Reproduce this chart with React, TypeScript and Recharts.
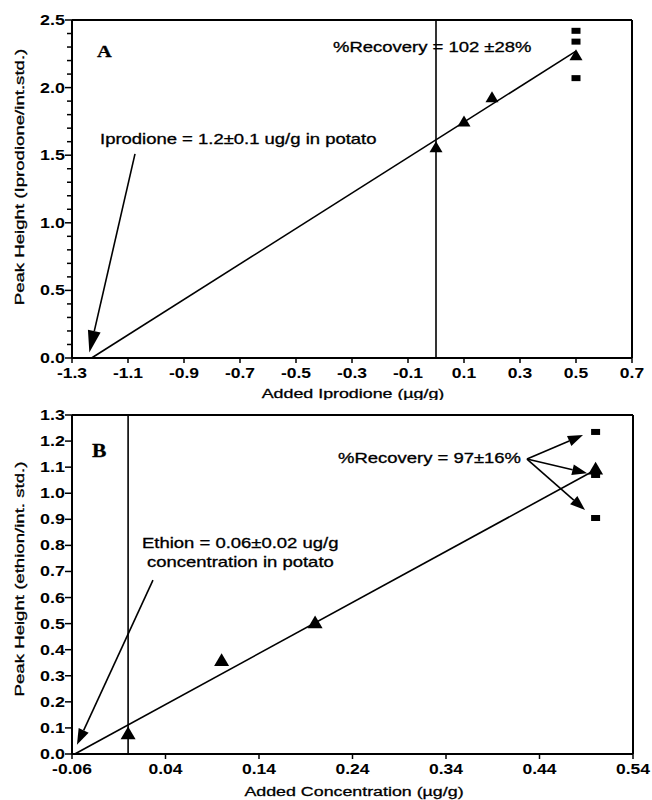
import { ScatterChart, Scatter, XAxis, YAxis, ReferenceLine } from 'recharts';

// Panel A: iprodione
const xTicksA = [-1.3, -1.1, -0.9, -0.7, -0.5, -0.3, -0.1, 0.1, 0.3, 0.5, 0.7];
const yMinorA = Array.from({ length: 26 }, (_, i) => +(i * 0.1).toFixed(1));
const triXA = [0, 0.1, 0.2, 0.5];
const triYA = [1.56, 1.75, 1.93, 2.24];
const sqXA = [0.5, 0.5, 0.5];
const sqYA = [2.42, 2.34, 2.07];
const fitXA = [-1.23, 0.5];
const fitYA = [0, 2.27];
const arrowXA = [-1.075, -1.238];
const arrowYA = [1.51, 0.04];

// Panel B: ethion
const xTicksB = [-0.06, 0.04, 0.14, 0.24, 0.34, 0.44, 0.54];
const yTicksB = [0, 0.1, 0.2, 0.3, 0.4, 0.5, 0.6, 0.7, 0.8, 0.9, 1.0, 1.1, 1.2, 1.3];
const triXB = [0, 0.1, 0.2, 0.5];
const triYB = [0.08, 0.36, 0.505, 1.095];
const sqXB = [0.5, 0.5, 0.5];
const sqYB = [1.235, 1.07, 0.905];
const fitXB = [-0.057, 0.5];
const fitYB = [0, 1.09];
const arrowXB = [0.0266, -0.0547];
const arrowYB = [0.667, 0.035];
// recovery arrows: common start, three tips
const recStartB = { x: 0.4266, y: 1.131 };
const recTipXB = [0.4865, 0.491, 0.4887];
const recTipYB = [1.223, 1.077, 0.936];

const SANS = '"Liberation Sans", Arial, sans-serif';
const SERIF = '"Liberation Serif", "Times New Roman", serif';

const pts = (xs: number[], ys: number[]) => xs.map((x, i) => ({ x, y: ys[i] }));

const Tri = (size: number) => (p: any) => {
  const { cx, cy } = p;
  const w = size / 2;
  return <polygon points={`${cx},${cy - w * 0.9} ${cx - w},${cy + w * 0.8} ${cx + w},${cy + w * 0.8}`} fill="#000" />;
};
const Sq = (p: any) => <rect x={p.cx - 4.5} y={p.cy - 3} width={9} height={6} fill="#000" />;

const arrowShape = (head: number, half: number) => (p: any) => {
  const { x1, y1, x2, y2 } = p;
  const dx = x2 - x1;
  const dy = y2 - y1;
  const len = Math.hypot(dx, dy) || 1;
  const ux = dx / len;
  const uy = dy / len;
  const bx = x2 - ux * head;
  const by = y2 - uy * head;
  return (
    <g>
      <line x1={x1} y1={y1} x2={bx} y2={by} stroke="#000" strokeWidth={1.6} />
      <polygon points={`${x2},${y2} ${bx - uy * half},${by + ux * half} ${bx + uy * half},${by - ux * half}`} fill="#000" />
    </g>
  );
};

function T({ x, y, children, size = 14, s = 1.32, weight = 'normal', rot = 0, anchor = 'start', family = SANS }: any) {
  return (
    <text
      transform={`translate(${x},${y}) rotate(${rot}) scale(${s},1)`}
      fontSize={size}
      fontWeight={weight}
      fontFamily={family}
      textAnchor={anchor}
      fill="#000"
      stroke="#000"
      strokeWidth={0.3}
    >
      {children}
    </text>
  );
}

const LeftTick = (p: any) => {
  const { x, y, payload, every, digits } = p;
  const v = payload.value;
  const major = Math.abs(v / every - Math.round(v / every)) < 1e-6;
  return (
    <g>
      <line x1={x - (major ? 7 : 5)} y1={y} x2={x} y2={y} stroke="#000" strokeWidth={1.5} />
      {major && (
        <text
          transform={`translate(${x - 7},${y + 5}) scale(1.28,1)`}
          textAnchor="end"
          fontSize={14}
          fontWeight="bold"
          fontFamily={SANS}
          fill="#000"
        >
          {v.toFixed(digits)}
        </text>
      )}
    </g>
  );
};

const BottomTick = (p: any) => {
  const { x, y, payload, digits } = p;
  return (
    <g>
      <line x1={x} y1={y} x2={x} y2={y + 5} stroke="#000" strokeWidth={1.5} />
      <text
        transform={`translate(${x},${y + 20}) scale(1.25,1)`}
        textAnchor="middle"
        fontSize={14}
        fontWeight="bold"
        fontFamily={SANS}
        fill="#000"
      >
        {payload.value.toFixed(digits)}
      </text>
    </g>
  );
};

const axisLine = { stroke: '#000', strokeWidth: 2 };

function PanelA() {
  return (
    <div style={{ position: 'absolute', left: 0, top: 0, width: 652, height: 400 }}>
      <ScatterChart width={652} height={400} margin={{ top: 20, right: 0, bottom: 0, left: 0 }}>
        <XAxis
          type="number"
          dataKey="x"
          domain={[-1.3, 0.7]}
          ticks={xTicksA}
          interval={0}
          height={42}
          axisLine={axisLine}
          tickLine={false}
          tickSize={0}
          tickMargin={0}
          tick={(p: any) => <BottomTick {...p} digits={1} />}
        />
        <YAxis
          type="number"
          dataKey="y"
          domain={[0, 2.5]}
          ticks={yMinorA}
          interval={0}
          width={72}
          axisLine={axisLine}
          tickLine={false}
          tickSize={0}
          tickMargin={0}
          tick={(p: any) => <LeftTick {...p} every={0.5} digits={1} />}
        />
        <YAxis
          yAxisId="r"
          orientation="right"
          type="number"
          domain={[0, 2.5]}
          ticks={yMinorA}
          interval={0}
          width={20}
          axisLine={axisLine}
          tickLine={{ stroke: '#000', strokeWidth: 1.5 }}
          tickSize={5}
          tick={false}
        />
        <ReferenceLine y={2.5} stroke="#000" strokeWidth={2} />
        <ReferenceLine x={0} stroke="#000" strokeWidth={1.6} />
        <ReferenceLine
          segment={[{ x: fitXA[0], y: fitYA[0] }, { x: fitXA[1], y: fitYA[1] }]}
          stroke="#000"
          strokeWidth={1.6}
        />
        <ReferenceLine
          segment={[{ x: arrowXA[0], y: arrowYA[0] }, { x: arrowXA[1], y: arrowYA[1] }]}
          shape={arrowShape(22, 6.5)}
        />
        <Scatter data={pts(sqXA, sqYA)} shape={Sq} isAnimationActive={false} />
        <Scatter data={pts(triXA, triYA)} shape={Tri(13)} isAnimationActive={false} />
      </ScatterChart>
      <svg width={652} height={400} style={{ position: 'absolute', left: 0, top: 0, pointerEvents: 'none' }}>
        <T x={97} y={57} size={17} s={1.2} weight="bold" family={SERIF}>A</T>
        <T x={333} y={52}>%Recovery = 102 ±28%</T>
        <T x={100} y={144}>Iprodione = 1.2±0.1 ug/g in potato</T>
        <T x={353} y={398} size={13.5} anchor="middle">Added Iprodione (µg/g)</T>
        <T x={24} y={177} size={13.5} s={1.38} rot={-90} anchor="middle">Peak Height (Iprodione/int.std.)</T>
      </svg>
    </div>
  );
}

function PanelB() {
  return (
    <div style={{ position: 'absolute', left: 0, top: 400, width: 652, height: 400 }}>
      <ScatterChart width={652} height={400} margin={{ top: 15, right: 0, bottom: 0, left: 0 }}>
        <XAxis
          type="number"
          dataKey="x"
          domain={[-0.06, 0.54]}
          ticks={xTicksB}
          interval={0}
          height={46}
          axisLine={axisLine}
          tickLine={false}
          tickSize={0}
          tickMargin={0}
          tick={(p: any) => <BottomTick {...p} digits={2} />}
        />
        <YAxis
          type="number"
          dataKey="y"
          domain={[0, 1.3]}
          ticks={yTicksB}
          interval={0}
          width={72}
          axisLine={axisLine}
          tickLine={false}
          tickSize={0}
          tickMargin={0}
          tick={(p: any) => <LeftTick {...p} every={0.1} digits={1} />}
        />
        <YAxis
          yAxisId="r"
          orientation="right"
          type="number"
          domain={[0, 1.3]}
          ticks={yTicksB}
          interval={0}
          width={19}
          axisLine={axisLine}
          tickLine={{ stroke: '#000', strokeWidth: 1.5 }}
          tickSize={5}
          tick={false}
        />
        <ReferenceLine y={1.3} stroke="#000" strokeWidth={2} />
        <ReferenceLine x={0} stroke="#000" strokeWidth={1.6} />
        <ReferenceLine
          segment={[{ x: fitXB[0], y: fitYB[0] }, { x: fitXB[1], y: fitYB[1] }]}
          stroke="#000"
          strokeWidth={1.6}
        />
        <ReferenceLine
          segment={[{ x: arrowXB[0], y: arrowYB[0] }, { x: arrowXB[1], y: arrowYB[1] }]}
          shape={arrowShape(16, 5.5)}
        />
        {recTipXB.map((tx, i) => (
          <ReferenceLine
            key={i}
            segment={[recStartB, { x: tx, y: recTipYB[i] }]}
            shape={arrowShape(15, 5.5)}
          />
        ))}
        <Scatter data={pts(sqXB, sqYB)} shape={Sq} isAnimationActive={false} />
        <Scatter data={pts(triXB, triYB)} shape={Tri(15)} isAnimationActive={false} />
      </ScatterChart>
      <svg width={652} height={400} style={{ position: 'absolute', left: 0, top: 0, pointerEvents: 'none' }}>
        <T x={92} y={57} size={18} s={1.2} weight="bold" family={SERIF}>B</T>
        <T x={338} y={63}>%Recovery = 97±16%</T>
        <T x={142} y={148}>Ethion = 0.06±0.02 ug/g</T>
        <T x={147} y={167}>concentration in potato</T>
        <T x={354} y={396} size={13.5} anchor="middle">Added Concentration (µg/g)</T>
        <T x={24} y={179} size={13.5} s={1.38} rot={-90} anchor="middle">Peak Height (ethion/int. std.)</T>
      </svg>
    </div>
  );
}

export default function App() {
  return (
    <div style={{ position: 'absolute', left: 0, top: 0, width: 652, height: 800, background: '#fff' }}>
      <PanelA />
      <PanelB />
    </div>
  );
}
